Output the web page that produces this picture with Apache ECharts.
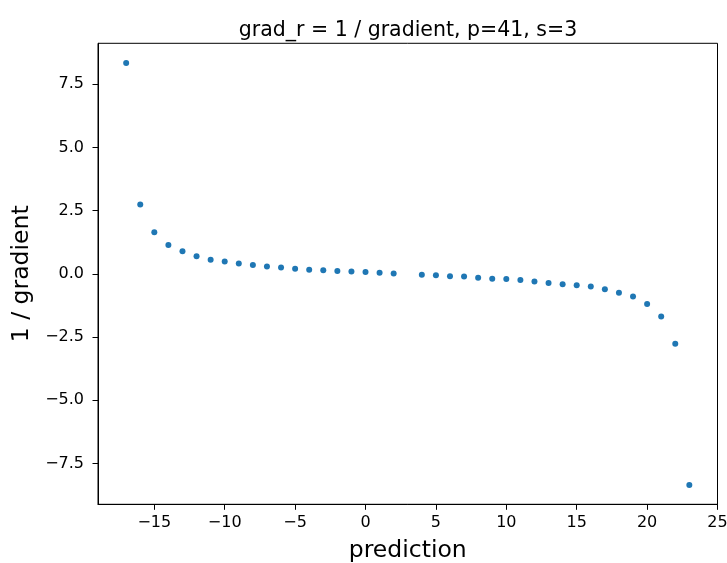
<!DOCTYPE html>
<html>
<head>
<meta charset="utf-8">
<script src="https://cdn.jsdelivr.net/npm/echarts@6/dist/echarts.min.js"></script>
<style>
  html, body { margin: 0; padding: 0; background: #fff; }
  #chart { width: 727px; height: 563px; }
</style>
</head>
<body>
<div id="chart"></div>
<script>
// prediction values (x = 3 is undefined and left out)
const predictions = [-17, -16, -15, -14, -13, -12, -11, -10, -9, -8, -7, -6, -5, -4, -3, -2, -1, 0, 1, 2,
                     4, 5, 6, 7, 8, 9, 10, 11, 12, 13, 14, 15, 16, 17, 18, 19, 20, 21, 22, 23];
// reciprocal of the gradient at each prediction
const gradR = [8.34, 2.74, 1.64, 1.14, 0.89, 0.69, 0.56, 0.49, 0.41, 0.35, 0.29, 0.25, 0.20, 0.16, 0.14, 0.11, 0.09, 0.07, 0.04, 0.01,
               -0.04, -0.06, -0.10, -0.11, -0.16, -0.20, -0.21, -0.25, -0.30, -0.36, -0.41, -0.45, -0.50, -0.61, -0.75, -0.90, -1.19, -1.69, -2.77, -8.36];
const xTicks = [-15, -10, -5, 0, 5, 10, 15, 20, 25];
const yTicks = [-7.5, -5.0, -2.5, 0.0, 2.5, 5.0, 7.5];

const points = predictions.map((x, i) => [x, gradR[i]]);
const fmtMinus = (s) => s.replace('-', '\u2212');
const font = 'DejaVu Sans';

const chart = echarts.init(document.getElementById('chart'), null, { renderer: 'canvas' });
chart.setOption({
  animation: false,
  backgroundColor: '#fff',
  title: {
    text: 'grad_r = 1 / gradient, p=41, s=3',
    left: 403, top: 15, textAlign: 'center',
    textStyle: { fontFamily: font, fontSize: 20.5, fontWeight: 'normal', color: '#000' }
  },
  grid: {
    left: 98, right: 9.5, top: 43.3, bottom: 58.7,
    outerBoundsMode: 'none', containLabel: false,
    show: true, borderColor: '#000', borderWidth: 1, backgroundColor: 'transparent'
  },
  xAxis: {
    type: 'value', min: -19, max: 25,
    name: 'prediction', nameLocation: 'middle', nameGap: 35,
    nameTextStyle: { fontFamily: font, fontSize: 23.5, color: '#000' },
    splitLine: { show: false },
    axisLine: { show: true, onZero: false, lineStyle: { color: '#000', width: 1 } },
    axisTick: { show: true, inside: false, length: 5.5, lineStyle: { color: '#000' }, customValues: xTicks },
    axisLabel: {
      fontFamily: font, fontSize: 16, color: '#000', margin: 11, customValues: xTicks,
      hideOverlap: false,
      formatter: (v) => fmtMinus(String(v))
    }
  },
  yAxis: {
    type: 'value', min: -9.12, max: 9.12,
    name: '1 / gradient', nameLocation: 'middle', nameGap: 64, nameRotate: 90,
    nameTextStyle: { fontFamily: font, fontSize: 23.5, color: '#000' },
    splitLine: { show: false },
    axisLine: { show: true, onZero: false, lineStyle: { color: '#000', width: 1 } },
    axisTick: { show: true, inside: false, length: 5.5, lineStyle: { color: '#000' }, customValues: yTicks },
    axisLabel: {
      fontFamily: font, fontSize: 16, color: '#000', margin: 14, customValues: yTicks,
      formatter: (v) => fmtMinus(Number(v).toFixed(1))
    }
  },
  series: [{
    type: 'scatter',
    data: points,
    symbol: 'circle',
    symbolSize: 6,
    itemStyle: { color: '#1f77b4', opacity: 1 }
  }]
});
</script>
</body>
</html>
